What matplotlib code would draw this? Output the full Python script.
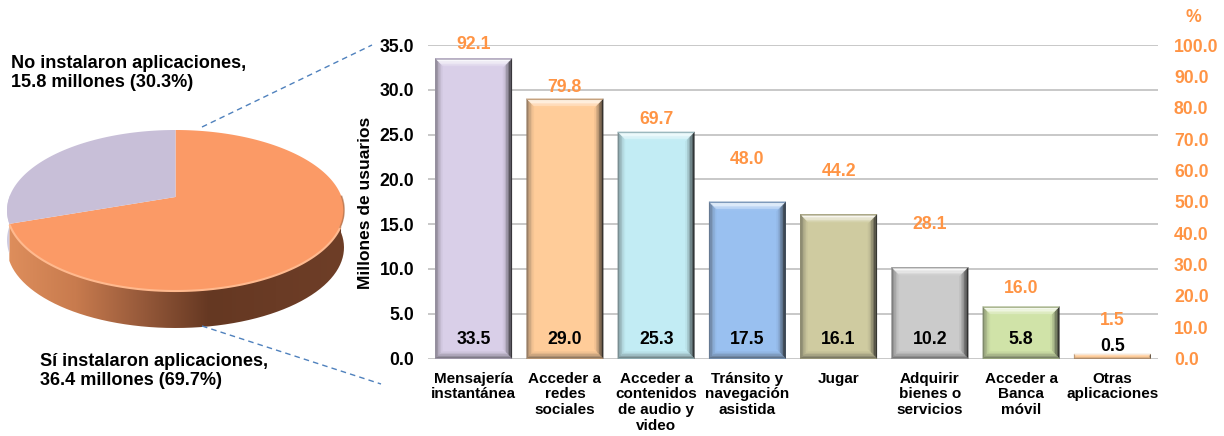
import numpy as np
import matplotlib
matplotlib.use('Agg')
import matplotlib.pyplot as plt
from matplotlib.patches import PathPatch
from matplotlib.path import Path
from matplotlib.colors import LinearSegmentedColormap, to_rgb

plt.rcParams['font.family'] = ['Liberation Sans', 'DejaVu Sans']
plt.rcParams['font.weight'] = 'bold'

categories = ['Mensajería\ninstantánea', 'Acceder a\nredes\nsociales', 'Acceder a\ncontenidos\nde audio y\nvideo',
              'Tránsito y\nnavegación\nasistida', 'Jugar', 'Adquirir\nbienes o\nservicios', 'Acceder a\nBanca\nmóvil',
              'Otras\naplicaciones']
usuarios = [33.5, 29.0, 25.3, 17.5, 16.1, 10.2, 5.8, 0.5]
porcentajes = [92.1, 79.8, 69.7, 48.0, 44.2, 28.1, 16.0, 1.5]
pie_values = [36.4, 15.8]
bar_colors = ['#D9CFE8', '#FFCC99', '#C2ECF4', '#99C0F0', '#CFCBA0', '#CBCBCB', '#D0E3A8', '#FFCC99']
pct_offsets = [25, 21, 20, 49, 48, 46, 20, 33]  # px above the point on the % axis
ORANGE = '#FF9444'
W, H = 1224, 436
PX = 72 / 100


def mix(c, other, t):
    c, other = np.array(to_rgb(c)), np.array(to_rgb(other))
    return tuple(c * (1 - t) + other * t)


def bevel_bar(ax, x, h, width, color, px_x, px_y, size=9, n=6):
    # bevelled bar, drawn as rings of trapezoids over a flat bar
    left, right = x - width / 2, x + width / 2
    ax.bar(x, h, width=width, color=color, linewidth=0, zorder=3)
    b = min(size, h / px_y / 2)
    for k in range(n):
        d0 = b * k / n
        d1 = b * (k + 1) / n
        t = k / (n - 1)
        x0, x1 = left + d0 * px_x, left + d1 * px_x
        X1, X0 = right - d1 * px_x, right - d0 * px_x
        y0, y1 = d0 * px_y, d1 * px_y
        Y1, Y0 = h - d1 * px_y, h - d0 * px_y
        top = mix(color, '#404040', 0.3) if k == 0 else mix(color, 'white', 0.95 * (1 - t) ** 0.8 + 0.03)
        sides = [
            ([x0, x1, x1, x0], [y0, y1, Y1, Y0], mix(color, '#303030', 0.5 * (1 - t) ** 1.5)),
            ([X0, X1, X1, X0], [y0, y1, Y1, Y0], mix(color, '#202020', 0.85 * (1 - t) ** 1.2 + 0.05)),
            ([x0, x1, X1, X0], [y0, y1, y1, y0], mix(color, '#303030', 0.55 * (1 - t) ** 1.5)),
            ([x0, x1, X1, X0], [Y0, Y1, Y1, Y0], top),
        ]
        for xs, ys, c in sides:
            ax.fill(xs, ys, color=c, linewidth=0.2, zorder=4)


fig = plt.figure(figsize=(W / 100, H / 100), dpi=100)

# bars
ax = fig.add_axes([428 / W, 1 - 358.5 / H, 730 / W, 313.5 / H])
xs = np.arange(len(categories))
ax.set_xlim(-0.5, 7.5)
ax.set_ylim(0, 35)
ax.set_yticks(np.arange(0, 35.1, 5))
ax.set_yticklabels([f'{v:.1f}' for v in np.arange(0, 35.1, 5)], fontsize=12.7)
ax.set_xticks(xs)
ax.set_xticklabels(categories, fontsize=11, linespacing=1.15, color='black')
ax.tick_params(axis='y', length=0, pad=10)
ax.tick_params(axis='x', length=0, pad=9.5)
ax.grid(axis='y', color='#C4C4C4', linewidth=1.3, zorder=0)
ax.set_axisbelow(True)
for s in ax.spines.values():
    s.set_visible(False)

px_x = 8 / 730
px_y = 35 / 313.5
for x, h, c in zip(xs, usuarios, bar_colors):
    bevel_bar(ax, x, h, 0.84, c, px_x, px_y)
for i, (x, v) in enumerate(zip(xs, usuarios)):
    off = 13.5 if i < 7 else 8.5
    ax.annotate(f'{v:.1f}', (x, 0), xytext=(0, off), textcoords='offset points', ha='center', va='center',
                fontsize=12.7, color='black', zorder=6)

ax2 = ax.twinx()
ax2.set_ylim(0, 100)
ax2.set_yticks(np.arange(0, 100.1, 10))
ax2.set_yticklabels([f'{v:.1f}' for v in np.arange(0, 100.1, 10)], fontsize=12.7, color=ORANGE)
ax2.tick_params(axis='y', length=0, pad=11.5)
for s in ax2.spines.values():
    s.set_visible(False)
for x, p, off in zip(xs, porcentajes, pct_offsets):
    ax2.annotate(f'{p:.1f}', (x, p), xytext=(0, off * PX), textcoords='offset points', ha='center', va='center',
                 fontsize=12.7, color=ORANGE, zorder=6, annotation_clip=False)

# overlay in pixel coordinates for the pie and free text
ov = fig.add_axes([0, 0, 1, 1], zorder=5)
ov.set_xlim(0, W)
ov.set_ylim(H, 0)
ov.axis('off')
ov.patch.set_alpha(0)

cx, cy, a, b, depth = 175.5, 210.5, 168.5, 80.5, 37
k = 0.168  # perspective of the tilted disc


def disc_point(theta):
    # theta clockwise from the top of the pie
    x, y = np.sin(theta), np.cos(theta)
    den = 1 + k * y
    return cx + a * x * np.sqrt(1 - k ** 2) / den, cy - b * (y + k) / den


frac = pie_values[0] / sum(pie_values)
split = 2 * np.pi * frac

# side wall, lower half of the disc
side_t = np.linspace(np.pi / 2 - 0.02, split, 200)
side_x, side_y = disc_point(side_t)
wall = np.column_stack([np.r_[side_x, side_x[::-1]], np.r_[side_y, side_y[::-1] + depth]])
wall_patch = PathPatch(Path(np.r_[wall, wall[:1]]), facecolor='none', edgecolor='none', zorder=1)
ov.add_patch(wall_patch)
cmap = LinearSegmentedColormap.from_list('wall', ['#DE8E5C', '#C87B4E', '#96593A', '#653822', '#6A3B25', '#6E3E27'])
img = ov.imshow(np.linspace(0, 1, 256)[None, :], extent=(8, 344, 340, 190), aspect='auto', cmap=cmap, zorder=1)
img.set_clip_path(wall_patch)
ov.set_xlim(0, W)
ov.set_ylim(H, 0)

# little piece of the purple wall at the far left
sl_t = np.linspace(split, 2 * np.pi * 0.755, 30)
sl_x, sl_y = disc_point(sl_t)
ov.fill(np.r_[sl_x, sl_x[::-1]], np.r_[sl_y, sl_y[::-1] + depth * 0.8], color='#CFCBE0', linewidth=0, zorder=1)

# top faces
for t0, t1, c in [(0, split, '#FB9A66'), (split, 2 * np.pi, '#C8BFD8')]:
    tt = np.linspace(t0, t1, 300)
    px, py = disc_point(tt)
    ov.fill(np.r_[cx, px], np.r_[cy - 13.5, py], color=c, linewidth=0, zorder=2)

# light rim on the front edge of the orange face
rim_x, rim_y = disc_point(np.linspace(np.pi * 0.62, split - 0.02, 120))
ov.plot(rim_x, rim_y, color='#FFB98E', linewidth=1.5, zorder=3)
rim_x, rim_y = disc_point(np.linspace(np.pi * 0.5, np.pi * 0.62, 60))
ov.plot(rim_x, rim_y - 0.5, color='#B8744C', linewidth=1.2, alpha=0.7, zorder=3)

# dashed connectors
ov.plot([202, 372], [127, 45], color='#4F81BD', linewidth=1.0, linestyle=(0, (4, 3)), zorder=1)
ov.plot([202, 381], [326, 384], color='#4F81BD', linewidth=1.0, linestyle=(0, (4, 3)), zorder=1)

ov.text(11, 73, f'No instalaron aplicaciones,\n{pie_values[1]} millones (30.3%)', fontsize=13.1, ha='left', va='center',
        linespacing=1.1)
ov.text(40, 371, f'Sí instalaron aplicaciones,\n{pie_values[0]} millones (69.7%)', fontsize=13.1, ha='left', va='center',
        linespacing=1.1)
ov.text(365, 203, 'Millones de usuarios', fontsize=12.5, rotation=90, ha='center', va='center')
ov.text(1193, 18, '%', fontsize=12.7, color=ORANGE, ha='center', va='center')

fig.savefig('out.png', dpi=100, facecolor='white')
plt.close(fig)
